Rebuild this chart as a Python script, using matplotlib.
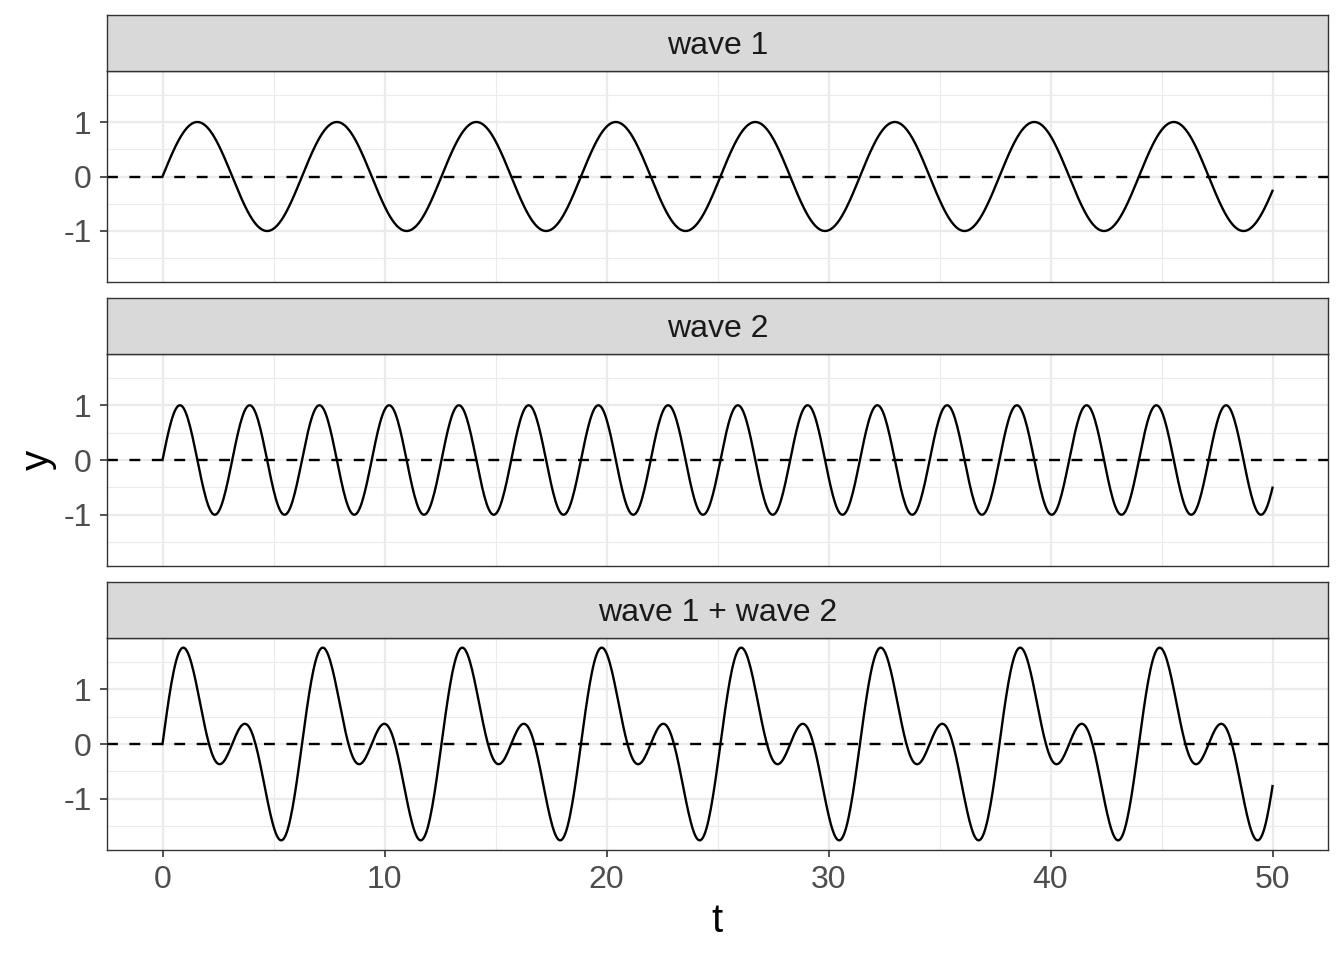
import numpy as np
import matplotlib.pyplot as plt

# values: two unit sine waves on t in [0, 50]
t_start = 0
t_end = 50
n_points = 1001
amp1, freq1 = 1.0, 1.0   # wave 1: period ~ 2*pi
amp2, freq2 = 1.0, 2.0   # wave 2: period ~ pi
panel_titles = ['wave 1', 'wave 2', 'wave 1 + wave 2']
x_ticks = [0, 10, 20, 30, 40, 50]
y_ticks = [-1, 0, 1]

t = np.linspace(t_start, t_end, n_points)
wave1 = amp1 * np.sin(freq1 * t)
wave2 = amp2 * np.sin(freq2 * t)
waves = [wave1, wave2, wave1 + wave2]

plt.rcParams['font.family'] = ['Liberation Sans', 'DejaVu Sans']

W, H = 1344, 960
fig = plt.figure(figsize=(W / 100, H / 100), dpi=100)

left, right = 107, 1328
strips = [(15, 71, 282), (298, 354, 566), (582, 638, 850)]

ymax = max(np.abs(w).max() for w in waves)
ylim = (-ymax * 1.1, ymax * 1.1)

for i, (s_top, p_top, p_bot) in enumerate(strips):
    ax = fig.add_axes([left / W, 1 - p_bot / H, (right - left) / W, (p_bot - p_top) / H])
    ax.plot(t, waves[i], color='black', lw=1.7, zorder=3)
    ax.axhline(0, color='black', lw=1.7, ls=(0, (4.6, 4.9)), zorder=2)
    ax.set_xlim(-2.5, 52.5)
    ax.set_ylim(*ylim)
    ax.set_xticks(x_ticks)
    ax.set_yticks(y_ticks)
    ax.set_xticks([5, 15, 25, 35, 45], minor=True)
    ax.set_yticks([-1.5, -0.5, 0.5, 1.5], minor=True)
    ax.grid(which='major', color='#EBEBEB', lw=1.6, zorder=0)
    ax.grid(which='minor', color='#EBEBEB', lw=0.8, zorder=0)
    ax.set_axisbelow(True)
    for sp in ax.spines.values():
        sp.set_color('#333333')
        sp.set_linewidth(1.0)
    ax.tick_params(which='major', length=5, width=1.2, color='#333333',
                   labelcolor='#4D4D4D', labelsize=23, pad=6)
    ax.tick_params(which='minor', length=0)
    if i < 2:
        ax.tick_params(axis='x', which='major', length=0, labelbottom=False)
    ax.set_yticklabels([str(v) for v in y_ticks])

    # strip
    sax = fig.add_axes([left / W, 1 - p_top / H, (right - left) / W, (p_top - s_top) / H])
    sax.set_xticks([])
    sax.set_yticks([])
    sax.set_facecolor('#D9D9D9')
    for sp in sax.spines.values():
        sp.set_color('#333333')
        sp.set_linewidth(1.0)
    sax.text(0.5, 0.44, panel_titles[i], ha='center', va='center',
             fontsize=23, color='#1A1A1A', transform=sax.transAxes)

fig.text(38 / W, 1 - 460 / H, 'y', rotation=90, ha='center', va='center', fontsize=29)
fig.text(717 / W, 1 - 921 / H, 't', ha='center', va='center', fontsize=29)

fig.savefig('out.png', dpi=100)
